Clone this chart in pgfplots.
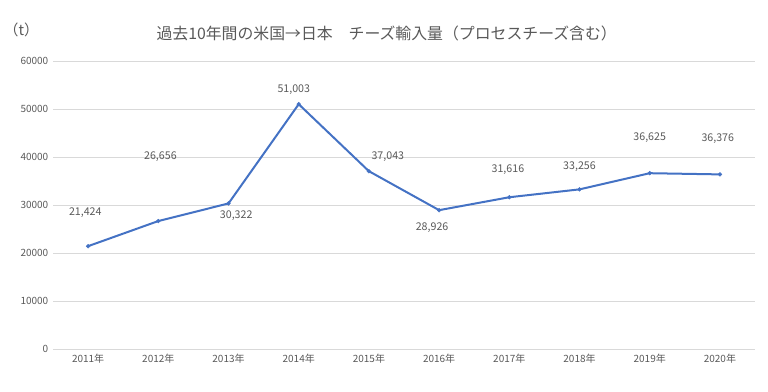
\documentclass[border=0pt]{standalone}
\usepackage{fontspec}
\setmainfont{Noto Sans CJK JP}
\usepackage{pgfplots}
\pgfplotsset{compat=1.18}
\definecolor{txt}{HTML}{595959}
\definecolor{gridc}{HTML}{D9D9D9}
\definecolor{linec}{HTML}{4472C4}
\begin{document}
\begin{tikzpicture}[x=1pt,y=1pt]
\useasboundingbox (0,0) rectangle (576,294);
\node[text=txt,font=\fontsize{11.9}{14}\selectfont] at (290,269.25) {過去10年間の米国→日本　チーズ輸入量（プロセスチーズ含む）};
\node[text=txt,font=\fontsize{11}{13}\selectfont] at (16,271.5) {（t）};
\begin{axis}[
  at={(39.75pt,32.25pt)}, anchor=south west, scale only axis,
  width=526.5pt, height=216pt,
  xmin=-0.5, xmax=9.5, ymin=0, ymax=60000,
  ytick={0,10000,...,60000},
  xtick={0,...,9},
  xticklabels={2011年,2012年,2013年,2014年,2015年,2016年,2017年,2018年,2019年,2020年},
  scaled y ticks=false,
  /pgf/number format/assume math mode=true,
  yticklabel style={/pgf/number format/1000 sep={}},
  ticklabel style={text=txt, font=\fontsize{7.5}{9}\selectfont},
  axis line style={draw=none},
  major tick length=0pt,
  ymajorgrids, grid style={gridc, line width=0.7pt},
  clip=false,
]
\addplot[linec, line width=1.5pt, mark=*, mark size=1.4pt, mark options={line width=0.4pt}] coordinates {
(0,21424) (1,26656) (2,30322) (3,51003) (4,37043) (5,28926) (6,31616) (7,33256) (8,36625) (9,36376)};
\begin{scope}[every node/.style={text=txt, font=\fontsize{8}{10}\selectfont}]
\node at (axis cs:-0.04,28333) {21,424};
\node at (axis cs:1.03,40000) {26,656};
\node at (axis cs:2.11,27708) {30,322};
\node at (axis cs:2.93,53958) {51,003};
\node at (axis cs:4.27,40000) {37,043};
\node at (axis cs:4.90,25208) {28,926};
\node at (axis cs:5.98,37292) {31,616};
\node at (axis cs:7.00,37917) {33,256};
\node at (axis cs:8.00,43958) {36,625};
\node at (axis cs:8.97,43750) {36,376};
\end{scope}
\end{axis}
\end{tikzpicture}
\end{document}
